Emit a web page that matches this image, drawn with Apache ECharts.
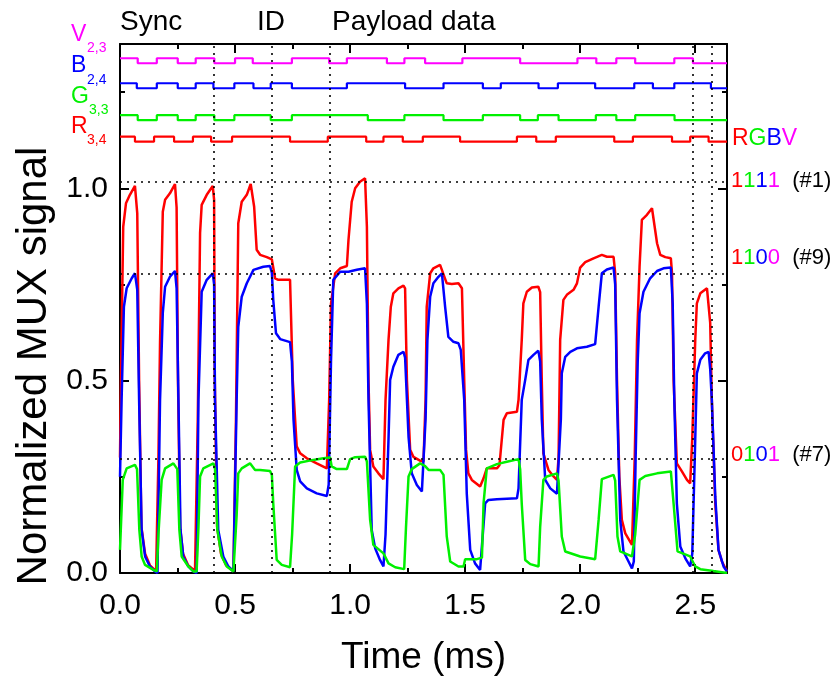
<!DOCTYPE html>
<html>
<head>
<meta charset="utf-8">
<script src="https://cdn.jsdelivr.net/npm/echarts@6/dist/echarts.min.js"></script>
<style>
html,body{margin:0;padding:0;background:#fff;}
#chart{width:838px;height:677px;}
</style>
</head>
<body>
<div id="chart"></div>
<script>
// ---------- data ----------
const X_MAX = 2.638;
const Y_MAX = 1.375;

// analog sensor outputs [time (ms), normalized signal]
const redCurve = [
[0,0.30],[0.004,0.50],[0.014,0.90],[0.026,0.961],[0.043,0.983],[0.065,1.006],[0.075,0.935],[0.083,0.50],[0.093,0.12],[0.109,0.05],[0.130,0.02],[0.157,0.005],
[0.167,0.30],[0.174,0.60],[0.186,0.939],[0.196,0.970],[0.217,0.987],[0.239,1.011],[0.246,0.95],[0.252,0.50],[0.261,0.12],[0.274,0.05],[0.296,0.02],[0.326,0.005],
[0.338,0.40],[0.348,0.884],[0.355,0.957],[0.377,0.983],[0.403,1.006],[0.409,0.97],[0.412,0.50],[0.422,0.12],[0.439,0.05],[0.461,0.02],[0.493,0.005],
[0.504,0.40],[0.514,0.909],[0.529,0.965],[0.551,0.983],[0.568,1.011],[0.583,0.952],[0.594,0.840],[0.609,0.827],[0.638,0.821],[0.660,0.815],[0.674,0.766],[0.688,0.762],[0.739,0.762],[0.751,0.50],[0.768,0.329],[0.783,0.311],[0.812,0.298],[0.855,0.285],[0.899,0.272],
[0.909,0.45],[0.917,0.70],[0.935,0.779],[0.957,0.792],[0.986,0.798],[0.993,0.866],[1.007,0.965],[1.022,1.000],[1.043,1.017],[1.065,1.026],[1.073,0.90],[1.080,0.50],[1.087,0.320],[1.101,0.277],[1.123,0.259],[1.145,0.244],
[1.154,0.45],[1.167,0.606],[1.177,0.692],[1.188,0.727],[1.210,0.740],[1.232,0.747],[1.239,0.74],[1.247,0.50],[1.261,0.320],[1.275,0.302],[1.304,0.292],[1.319,0.290],
[1.328,0.45],[1.333,0.692],[1.348,0.779],[1.362,0.792],[1.391,0.801],[1.399,0.798],[1.420,0.753],[1.442,0.751],[1.471,0.753],[1.486,0.74],[1.496,0.50],[1.504,0.32],[1.514,0.259],[1.529,0.242],[1.565,0.225],[1.580,0.246],[1.594,0.272],[1.638,0.272],[1.649,0.28],[1.667,0.398],[1.681,0.415],[1.725,0.419],
[1.732,0.45],[1.739,0.528],[1.746,0.606],[1.753,0.701],[1.768,0.731],[1.790,0.742],[1.818,0.744],[1.826,0.73],[1.833,0.50],[1.840,0.311],[1.862,0.268],[1.884,0.251],[1.899,0.242],
[1.906,0.30],[1.913,0.606],[1.927,0.710],[1.942,0.723],[1.971,0.736],[1.986,0.753],[2.000,0.794],[2.022,0.808],[2.058,0.818],[2.094,0.827],[2.116,0.822],[2.145,0.822],[2.152,0.78],[2.160,0.50],[2.170,0.25],[2.181,0.138],[2.196,0.103],[2.225,0.073],[2.230,0.07],
[2.237,0.30],[2.247,0.606],[2.258,0.796],[2.268,0.918],[2.290,0.931],[2.312,0.948],[2.319,0.945],[2.334,0.857],[2.348,0.827],[2.370,0.821],[2.394,0.818],[2.399,0.78],[2.406,0.50],[2.420,0.285],[2.442,0.264],[2.464,0.242],[2.478,0.233],
[2.487,0.35],[2.500,0.606],[2.507,0.701],[2.522,0.727],[2.551,0.740],[2.558,0.742],[2.565,0.65],[2.572,0.45],[2.587,0.181],[2.601,0.060],[2.616,0.030],[2.638,0.004]
];

const blueCurve = [
[0,0.25],[0.007,0.45],[0.017,0.692],[0.029,0.740],[0.051,0.766],[0.065,0.779],[0.075,0.736],[0.083,0.45],[0.094,0.112],[0.109,0.043],[0.130,0.017],[0.152,0.004],[0.163,0.0],
[0.174,0.45],[0.186,0.676],[0.196,0.744],[0.217,0.770],[0.239,0.785],[0.246,0.74],[0.254,0.45],[0.263,0.112],[0.275,0.043],[0.297,0.017],[0.319,0.004],[0.333,0.0],
[0.341,0.45],[0.355,0.731],[0.377,0.762],[0.403,0.779],[0.409,0.75],[0.413,0.45],[0.427,0.112],[0.449,0.043],[0.471,0.017],[0.493,0.004],[0.500,0.0],
[0.507,0.45],[0.514,0.640],[0.529,0.718],[0.551,0.753],[0.580,0.788],[0.623,0.796],[0.652,0.798],[0.660,0.78],[0.666,0.710],[0.678,0.623],[0.696,0.608],[0.739,0.600],[0.747,0.55],[0.754,0.40],[0.768,0.268],[0.783,0.238],[0.812,0.220],[0.855,0.207],[0.899,0.200],
[0.907,0.23],[0.917,0.55],[0.927,0.762],[0.957,0.783],[0.993,0.783],[1.029,0.788],[1.065,0.792],[1.073,0.70],[1.080,0.45],[1.094,0.112],[1.109,0.064],[1.130,0.034],[1.145,0.017],
[1.154,0.10],[1.167,0.35],[1.174,0.502],[1.188,0.536],[1.210,0.567],[1.232,0.575],[1.239,0.56],[1.247,0.45],[1.254,0.354],[1.268,0.259],[1.290,0.229],[1.312,0.212],[1.319,0.21],
[1.328,0.40],[1.336,0.606],[1.348,0.718],[1.362,0.753],[1.384,0.770],[1.399,0.779],[1.413,0.692],[1.427,0.614],[1.449,0.601],[1.471,0.597],[1.481,0.58],[1.496,0.45],[1.507,0.207],[1.522,0.060],[1.543,0.025],[1.565,0.008],[1.573,0.01],
[1.587,0.181],[1.601,0.190],[1.638,0.192],[1.725,0.194],[1.732,0.22],[1.746,0.45],[1.761,0.502],[1.775,0.554],[1.797,0.567],[1.818,0.578],[1.826,0.55],[1.833,0.40],[1.848,0.242],[1.870,0.220],[1.899,0.206],[1.906,0.21],
[1.916,0.40],[1.920,0.519],[1.935,0.562],[1.957,0.575],[1.986,0.584],[2.029,0.588],[2.065,0.595],[2.080,0.692],[2.094,0.779],[2.116,0.789],[2.145,0.794],[2.152,0.75],[2.160,0.45],[2.174,0.138],[2.188,0.056],[2.210,0.030],[2.225,0.012],[2.233,0.03],
[2.241,0.30],[2.250,0.55],[2.258,0.675],[2.275,0.731],[2.304,0.766],[2.334,0.785],[2.362,0.792],[2.394,0.794],[2.402,0.70],[2.409,0.45],[2.420,0.181],[2.435,0.069],[2.457,0.038],[2.478,0.017],
[2.487,0.05],[2.498,0.30],[2.507,0.519],[2.522,0.554],[2.543,0.571],[2.558,0.575],[2.565,0.53],[2.572,0.45],[2.587,0.199],[2.601,0.060],[2.623,0.017],[2.638,0.004]
];

const greenCurve = [
[0,0.06],[0.012,0.242],[0.029,0.272],[0.065,0.281],[0.074,0.27],[0.084,0.112],[0.094,0.043],[0.109,0.021],[0.145,0.008],[0.160,0.004],
[0.167,0.10],[0.181,0.242],[0.196,0.272],[0.232,0.285],[0.239,0.286],[0.249,0.27],[0.258,0.112],[0.268,0.043],[0.297,0.017],[0.319,0.004],[0.333,0.004],
[0.341,0.12],[0.348,0.251],[0.362,0.272],[0.406,0.285],[0.413,0.27],[0.423,0.112],[0.442,0.043],[0.464,0.017],[0.493,0.004],[0.500,0.004],
[0.507,0.15],[0.514,0.259],[0.529,0.272],[0.565,0.285],[0.573,0.289],[0.587,0.268],[0.609,0.268],[0.652,0.265],[0.660,0.255],[0.666,0.181],[0.681,0.034],[0.703,0.021],[0.739,0.015],
[0.748,0.10],[0.761,0.277],[0.783,0.287],[0.840,0.294],[0.884,0.298],[0.913,0.300],[0.920,0.277],[0.942,0.270],[0.986,0.270],[1.000,0.296],[1.022,0.301],[1.065,0.302],[1.073,0.29],[1.087,0.138],[1.101,0.073],[1.145,0.051],[1.167,0.025],[1.196,0.015],[1.235,0.010],
[1.243,0.12],[1.254,0.251],[1.268,0.270],[1.304,0.285],[1.326,0.278],[1.341,0.268],[1.391,0.268],[1.406,0.255],[1.420,0.095],[1.435,0.030],[1.471,0.017],[1.493,0.017],[1.500,0.036],[1.551,0.036],[1.573,0.04],
[1.580,0.181],[1.594,0.272],[1.638,0.283],[1.681,0.289],[1.732,0.296],[1.739,0.27],[1.746,0.18],[1.761,0.034],[1.783,0.023],[1.819,0.017],
[1.826,0.12],[1.840,0.242],[1.855,0.251],[1.899,0.259],[1.906,0.24],[1.920,0.095],[1.935,0.056],[2.000,0.043],[2.065,0.036],
[2.080,0.138],[2.094,0.244],[2.145,0.255],[2.152,0.24],[2.162,0.095],[2.174,0.056],[2.225,0.043],
[2.239,0.10],[2.258,0.242],[2.283,0.252],[2.334,0.259],[2.394,0.264],[2.406,0.18],[2.423,0.056],[2.478,0.043],[2.500,0.017],[2.522,0.010],[2.579,0.005],[2.638,0.0]
];

// digital drive waveforms: edge times (ms) and logic state from each edge
const vEdges = [0,0.077,0.160,0.251,0.329,0.410,0.500,0.577,0.747,0.909,0.986,1.160,1.236,1.326,1.488,1.739,1.988,2.070,2.157,2.239,2.409,2.490];
const vBits  = [1,0,1,0,1,0,1,0,1,0,1,0,1,0,1,0,1,0,1,0,1,0];
const bEdges = [0,0.073,0.160,0.251,0.329,0.406,0.497,0.580,0.655,0.747,0.986,1.239,1.406,1.577,1.655,1.819,1.903,2.065,2.235,2.316,2.409,2.568];
const bBits  = [1,0,1,0,1,0,1,0,1,0,1,0,1,0,1,0,1,0,1,0,1,0];
const gEdges = [0,0.077,0.160,0.251,0.329,0.410,0.497,0.655,0.747,1.077,1.236,1.406,1.577,1.739,1.816,1.906,2.068,2.157,2.239,2.410];
const gBits  = [1,0,1,0,1,0,1,0,1,0,1,0,1,0,1,0,1,0,1,0];
const rEdges = [0,0.065,0.148,0.235,0.317,0.396,0.487,0.739,0.903,1.070,1.145,1.229,1.316,1.478,1.725,1.809,1.894,2.148,2.229,2.399,2.478,2.558];
const rBits  = [1,0,1,0,1,0,1,0,1,0,1,0,1,0,1,0,1,0,1,0,1,0];
// plotted low / high levels of each digital trace
const vLevels = [1.325, 1.338];
const bLevels = [1.260, 1.273];
const gLevels = [1.177, 1.190];
const rLevels = [1.121, 1.134];

// reference guide lines
const hGuides = [1.017, 0.779, 0.298];
const vGuides = [0.406, 0.661, 0.913, 2.490, 2.573];

const xTickInterval = 0.5;
const yTickInterval = 0.5;

// ---------- chart ----------
const FONT = 'Liberation Sans, Arial, sans-serif';
const C = {r:'#ff0000', g:'#00f000', b:'#0000ff', v:'#ff00ff'};

function stepData(edges, bits, levels){
  const d = edges.map((t,i)=>[t, levels[bits[i]]]);
  d.push([X_MAX, levels[bits[bits.length-1]]]);
  return d;
}

const chart = echarts.init(document.getElementById('chart'), null, {renderer:'canvas'});

const axisLineStyle = {color:'#000', width:2};
function xAx(pos, showLabel){
  return {
    type:'value', min:0, max:X_MAX, interval:xTickInterval, position:pos,
    axisLine:{show:true, onZero:false, lineStyle:axisLineStyle},
    axisTick:{show:true, inside:true, length:9, lineStyle:{color:'#000', width:2}},
    minorTick:{show:true, splitNumber:2, length:5, lineStyle:{color:'#000', width:2}},
    splitLine:{show:false}, minorSplitLine:{show:false},
    axisLabel:{show:showLabel, fontSize:30, color:'#000', fontFamily:FONT, margin:18,
      showMaxLabel:false, formatter:v=>v.toFixed(1)},
    name: showLabel ? 'Time (ms)' : '',
    nameLocation:'middle', nameGap:66,
    nameTextStyle:{fontSize:37, color:'#000', fontFamily:FONT}
  };
}
function yAx(pos, showLabel){
  return {
    type:'value', min:0, max:Y_MAX, interval:yTickInterval, position:pos,
    axisLine:{show:true, onZero:false, lineStyle:axisLineStyle},
    axisTick:{show:true, inside:true, length:9, lineStyle:{color:'#000', width:2}},
    minorTick:{show:true, splitNumber:2, length:5, lineStyle:{color:'#000', width:2}},
    splitLine:{show:false}, minorSplitLine:{show:false},
    axisLabel:{show:showLabel, fontSize:30, color:'#000', fontFamily:FONT, margin:12,
      showMaxLabel:false, formatter:v=>v.toFixed(1)}
  };
}

const guideLines = [];
hGuides.forEach(v=>guideLines.push([{coord:[0,v]},{coord:[X_MAX,v]}]));
vGuides.forEach(t=>guideLines.push([{coord:[t,0]},{coord:[t,Y_MAX]}]));

function curve(name, data, color, width){
  return {name, type:'line', data, showSymbol:false, symbol:'none', silent:true,
    lineStyle:{color, width}, itemStyle:{color}, emphasis:{disabled:true}, z:3};
}
function stepSeries(name, data, color){
  return {name, type:'line', data, step:'end', showSymbol:false, symbol:'none', silent:true,
    lineStyle:{color, width:2.2}, itemStyle:{color}, emphasis:{disabled:true}, z:3};
}

const redSeries = curve('R', redCurve, C.r, 2.5);
redSeries.markLine = {silent:true, symbol:['none','none'], label:{show:false},
  lineStyle:{color:'#000', width:1.6, type:[2,5]}, emphasis:{disabled:true}, animation:false,
  data:guideLines};

function richCode(code, tag, size){
  const keys = ['r','g','b','v'];
  const text = code.split('').map((c,i)=>'{'+keys[i]+'|'+c+'}').join('') + (tag ? '{k|  '+tag+'}' : '');
  const rich = {};
  keys.forEach(k=>rich[k]={fill:C[k], fontSize:size, fontFamily:FONT});
  rich.k = {fill:'#000', fontSize:size, fontFamily:FONT};
  return {text, rich, fontSize:size, fontFamily:FONT, verticalAlign:'middle'};
}

const option = {
  animation:false,
  backgroundColor:'#ffffff',
  grid:{left:120, right:111, top:44, bottom:104, outerBoundsMode:'none'},
  xAxis:[xAx('bottom', true), xAx('top', false)],
  yAxis:[yAx('left', true), yAx('right', false)],
  series:[
    redSeries,
    curve('B', blueCurve, C.b, 2.5),
    curve('G', greenCurve, C.g, 2.5),
    stepSeries('V2,3', stepData(vEdges, vBits, vLevels), C.v),
    stepSeries('B2,4', stepData(bEdges, bBits, bLevels), C.b),
    stepSeries('G3,3', stepData(gEdges, gBits, gLevels), C.g),
    stepSeries('R3,4', stepData(rEdges, rBits, rLevels), C.r)
  ],
  graphic:[
    {type:'text', x:34, y:366, rotation:Math.PI/2,
      style:{text:'Normalized MUX signal', fontSize:42, fontFamily:FONT, fill:'#000', align:'center', verticalAlign:'middle'}},

    {type:'text', x:120, y:22, style:{text:'Sync', fontSize:28, fontFamily:FONT, fill:'#000', verticalAlign:'middle'}},
    {type:'text', x:257, y:22, style:{text:'ID', fontSize:28, fontFamily:FONT, fill:'#000', verticalAlign:'middle'}},
    {type:'text', x:332, y:22, style:{text:'Payload data', fontSize:28, fontFamily:FONT, fill:'#000', verticalAlign:'middle'}},

    {type:'text', x:71, y:35, style:{text:'V', fontSize:23, fontFamily:FONT, fill:C.v, verticalAlign:'middle'}},
    {type:'text', x:87, y:48, style:{text:'2,3', fontSize:14, fontFamily:FONT, fill:C.v, verticalAlign:'middle'}},
    {type:'text', x:71, y:66, style:{text:'B', fontSize:23, fontFamily:FONT, fill:C.b, verticalAlign:'middle'}},
    {type:'text', x:87, y:80, style:{text:'2,4', fontSize:14, fontFamily:FONT, fill:C.b, verticalAlign:'middle'}},
    {type:'text', x:71, y:97, style:{text:'G', fontSize:23, fontFamily:FONT, fill:C.g, verticalAlign:'middle'}},
    {type:'text', x:89, y:110, style:{text:'3,3', fontSize:14, fontFamily:FONT, fill:C.g, verticalAlign:'middle'}},
    {type:'text', x:71, y:127, style:{text:'R', fontSize:23, fontFamily:FONT, fill:C.r, verticalAlign:'middle'}},
    {type:'text', x:87, y:140, style:{text:'3,4', fontSize:14, fontFamily:FONT, fill:C.r, verticalAlign:'middle'}},

    {type:'text', x:732, y:139, style:richCode('RGBV', '', 23)},
    {type:'text', x:731, y:181, style:richCode('1111', '(#1)', 22)},
    {type:'text', x:731, y:258, style:richCode('1100', '(#9)', 22)},
    {type:'text', x:731, y:455, style:richCode('0101', '(#7)', 22)}
  ]
};
chart.setOption(option);
</script>
</body>
</html>
